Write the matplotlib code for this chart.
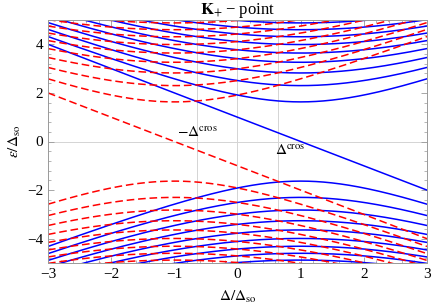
import numpy as np
import matplotlib.pyplot as plt

plt.rcParams['font.family'] = ['Liberation Serif', 'DejaVu Serif']
plt.rcParams['mathtext.fontset'] = 'stix'

# level energies at the band edge (n = 1, 2, ...)
level_min   = [1.63, 2.30, 2.82, 3.26, 3.64, 3.99, 4.31, 4.60, 4.88]
spin_shift  = {'blue': 1.0, 'red': -1.0}   # position of the minimum in Delta/Delta_so
delta_cros  = 0.64                          # crossing point of n=0 with n=1
x_ticks     = [-3, -2, -1, 0, 1, 2, 3]
y_ticks     = [-4, -2, 0, 2, 4]

delta       = np.linspace(-3, 3, 400)

fig     = plt.figure(figsize=(4.36, 3.05), dpi=100)
ax      = fig.add_axes([48/436, 1-263/305, 379/436, 243/305])

# light grid lines through the origin and at the crossing points
for xg in [-delta_cros, 0, delta_cros]:
    ax.axvline(xg, color='#d4d4d4', lw=0.7, zorder=0)
ax.axhline(0, color='#d4d4d4', lw=0.7, zorder=0)

styles  = {'blue': dict(color='blue', lw=1.1, ls='-'),
           'red':  dict(color='red',  lw=1.1, ls=(0, (5, 2.5)))}

for key in ['blue', 'red']:
    s   = spin_shift[key]
    ax.plot(delta, s - delta, **styles[key])         # n = 0 level
    for m in level_min:
        e   = np.sqrt(m**2 + (delta - s)**2)
        ax.plot(delta,  e, **styles[key])
        ax.plot(delta, -e, **styles[key])

ax.text(-delta_cros, 0.37, r'$-\Delta^{\rm cros}$', ha='center', va='center', fontsize=11)
ax.text(0.83, -0.37, r'$\Delta^{\rm cros}$', ha='center', va='center', fontsize=11)

ax.set_xlim(-3, 3)
ax.set_ylim(-5, 5)
ax.set_xticks(x_ticks)
ax.set_yticks(y_ticks)
ax.set_xticklabels([str(t).replace('-', '\u2212') for t in x_ticks])
ax.set_yticklabels([str(t).replace('-', '\u2212') for t in y_ticks])
ax.set_xticks(np.arange(-3, 3.01, 0.2), minor=True)
ax.set_yticks(np.arange(-4.8, 4.81, 0.4), minor=True)
ax.tick_params(which='both', direction='in', top=True, right=True, color='#999999', labelsize=11)
ax.tick_params(which='major', length=4, width=0.6)
ax.tick_params(which='minor', length=2, width=0.5)
for sp in ax.spines.values():
    sp.set_color('#999999')
    sp.set_linewidth(0.7)

ax.set_title('$\\mathbf{K}_{+}$\u2009\u2212 point', fontsize=12, pad=3)
ax.set_xlabel(r'$\Delta/\Delta_{\rm so}$', fontsize=11, labelpad=6)
ax.set_ylabel(r'$\epsilon/\Delta_{\rm so}$', fontsize=11, labelpad=3)

fig.savefig('out.png', dpi=100)
